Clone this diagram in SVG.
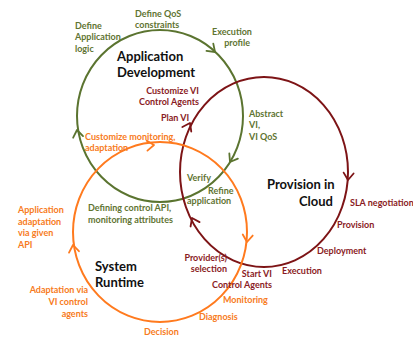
<svg xmlns="http://www.w3.org/2000/svg" width="413" height="339" viewBox="0 0 413 339">
<style>
text{font-family:Lato,"Liberation Sans",sans-serif;font-weight:bold}
.t{font-size:13px;fill:#111}
.s{font-size:9px}
.g{fill:#5f7432}
.r{fill:#8a1b24}
.o{fill:#f77b22}
.e{text-anchor:end}
.ring{fill:none;stroke-width:2}
.chev{fill:none;stroke-width:1.8;stroke-linecap:round;stroke-linejoin:round}
</style>
<defs>
<path id="ah" d="M-7,-5 L0,0 L-7,5"/>
</defs>
<rect width="413" height="339" fill="#fff"/>
<g id="connectors">
<ellipse class="ring" cx="160" cy="116" rx="83" ry="86" stroke="#5b7430"/>
<ellipse class="ring" cx="264" cy="172" rx="84" ry="95" stroke="#7d1416"/>
<ellipse class="ring" cx="160" cy="232" rx="87" ry="90" stroke="#ff7a1e"/>
<g class="chev" stroke="#5b7430">
<use href="#ah" transform="translate(215,52) rotate(43)"/>
<use href="#ah" transform="translate(230,162) rotate(121)"/>
<use href="#ah" transform="translate(77,130) rotate(-99)"/>
</g>
<g class="chev" stroke="#7d1416">
<use href="#ah" transform="translate(348,180) rotate(95)"/>
<use href="#ah" transform="translate(192,218) rotate(-116)"/>
<use href="#ah" transform="translate(190,123) rotate(-63)"/>
</g>
<g class="chev" stroke="#ff7a1e">
<use href="#ah" transform="translate(154,145) rotate(-5)"/>
<use href="#ah" transform="translate(247,242) rotate(96)"/>
<use href="#ah" transform="translate(73,245) rotate(-98)"/>
</g>
</g>
<g id="app-dev">
<text class="t" x="117" y="61">Application</text>
<text class="t" x="117" y="77">Development</text>
<text class="s g" x="75" y="29">Define</text>
<text class="s g" x="75" y="40">Application</text>
<text class="s g" x="75" y="52">logic</text>
<text class="s g" x="135" y="17">Define QoS</text>
<text class="s g" x="135" y="28">constraints</text>
<text class="s g" x="212" y="35">Execution</text>
<text class="s g e" x="250" y="46">profile</text>
<text class="s g" x="249" y="117">Abstract</text>
<text class="s g" x="249" y="128">VI,</text>
<text class="s g" x="249" y="140">VI QoS</text>
<text class="s g" x="187" y="181">Verify</text>
<text class="s g" x="208" y="194">Refine</text>
<text class="s g" x="187" y="204">application</text>
<text class="s g" x="88" y="211">Defining control API,</text>
<text class="s g" x="88" y="223">monitoring attributes</text>
</g>
<g id="provision">
<text class="t" x="267" y="189">Provision in</text>
<text class="t e" x="333" y="206">Cloud</text>
<text class="s r e" x="199" y="94">Customize VI</text>
<text class="s r e" x="199" y="105">Control Agents</text>
<text class="s r" x="161" y="121">Plan VI</text>
<text class="s r" x="350" y="206">SLA negotiation</text>
<text class="s r" x="337" y="228">Provision</text>
<text class="s r" x="317" y="254">Deployment</text>
<text class="s r" x="282" y="274">Execution</text>
<text class="s r e" x="272" y="277">Start VI</text>
<text class="s r e" x="272" y="288">Control Agents</text>
<text class="s r e" x="227" y="261">Provider(s)</text>
<text class="s r e" x="227" y="272">selection</text>
</g>
<g id="runtime">
<text class="t" x="95" y="271">System</text>
<text class="t" x="95" y="287">Runtime</text>
<text class="s o" x="85" y="140">Customize monitoring,</text>
<text class="s o" x="85" y="151">adaptation</text>
<text class="s o" x="18" y="213">Application</text>
<text class="s o" x="18" y="225">adaptation</text>
<text class="s o" x="18" y="236">via given</text>
<text class="s o" x="18" y="248">API</text>
<text class="s o e" x="88" y="293">Adaptation via</text>
<text class="s o e" x="88" y="305">VI control</text>
<text class="s o e" x="88" y="317">agents</text>
<text class="s o" x="144" y="335">Decision</text>
<text class="s o" x="199" y="320">Diagnosis</text>
<text class="s o" x="223" y="303">Monitoring</text>
</g>
</svg>
